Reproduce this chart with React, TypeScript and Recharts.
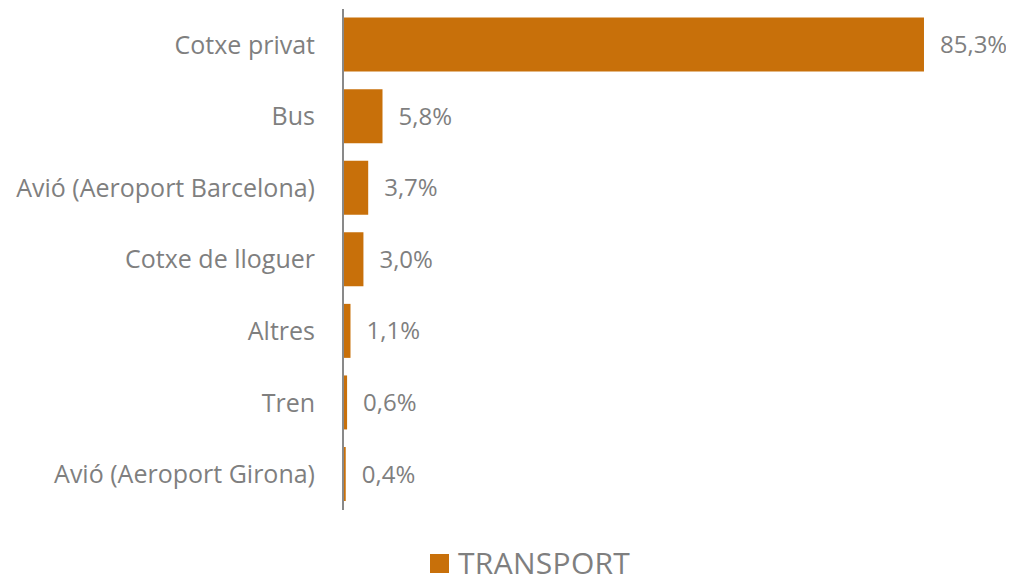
import { BarChart, Bar, XAxis, YAxis, LabelList, Legend } from "recharts";

const categories = [
  "Cotxe privat",
  "Bus",
  "Avió (Aeroport Barcelona)",
  "Cotxe de lloguer",
  "Altres",
  "Tren",
  "Avió (Aeroport Girona)",
];
const transport = [85.3, 5.8, 3.7, 3.0, 1.1, 0.6, 0.4];

const data = categories.map((name, i) => ({ name, value: transport[i] }));

const BAR = "#C8700A";
const TEXT = "#7f7f7f";
const FONT = "'Open Sans', sans-serif";

const fmt = (v: any) => Number(v).toFixed(1).replace(".", ",") + "%";

const LegendBox = () => (
  <div
    style={{
      height: 73,
      display: "flex",
      alignItems: "flex-end",
      paddingLeft: 422,
      boxSizing: "border-box",
      fontFamily: FONT,
    }}
  >
    <div style={{ display: "flex", alignItems: "center", marginBottom: 8, height: 24 }}>
      <span style={{ width: 19, height: 19, background: BAR, display: "inline-block", marginRight: 9 }} />
      <span style={{ fontSize: 30, color: TEXT, lineHeight: "24px", letterSpacing: 0.3 }}>TRANSPORT</span>
    </div>
  </div>
);

export default function App() {
  return (
    <BarChart
      width={1006}
      height={575}
      data={data}
      layout="vertical"
      margin={{ top: 1, right: 58, bottom: 0, left: 0 }}
      barCategoryGap="12%"
      style={{ fontFamily: FONT }}
    >
      <XAxis type="number" domain={[0, 90]} hide />
      <YAxis
        type="category"
        dataKey="name"
        width={335}
        tickLine={false}
        axisLine={{ stroke: "#898989", strokeWidth: 2 }}
        tick={{ fill: TEXT, fontSize: 25 }}
        tickMargin={22}
        interval={0}
      />
      <Legend verticalAlign="bottom" content={<LegendBox />} />
      <Bar dataKey="value" fill={BAR} isAnimationActive={false}>
        <LabelList dataKey="value" position="right" offset={16} formatter={fmt} fill={TEXT} fontSize={24} />
      </Bar>
    </BarChart>
  );
}
